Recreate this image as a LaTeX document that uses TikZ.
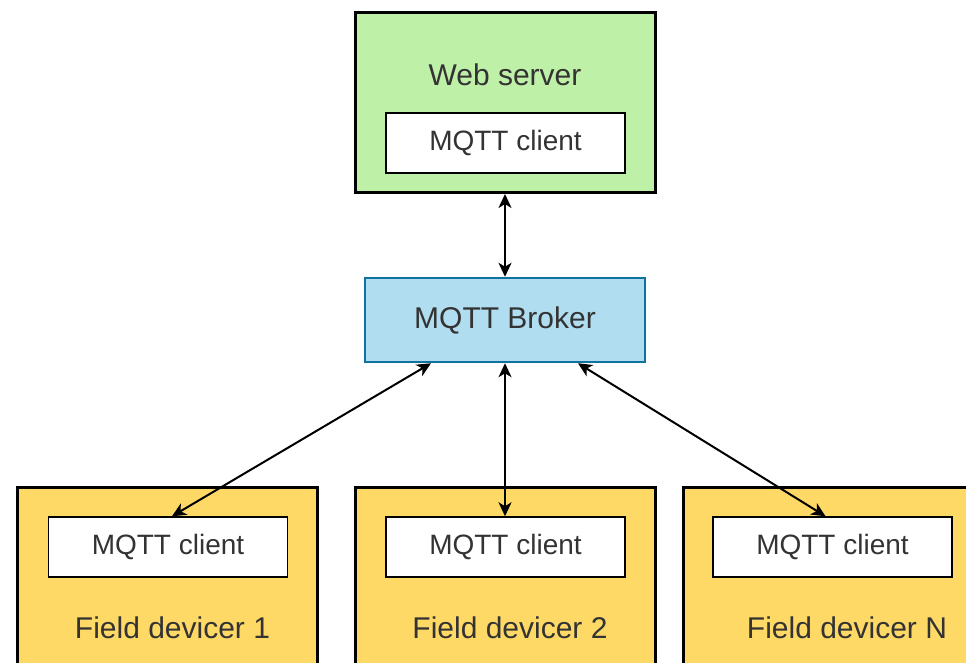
\documentclass[tikz,border=0pt]{standalone}
\usepackage{fontspec}
\setmainfont{Liberation Sans}
\usetikzlibrary{arrows.meta}
\definecolor{webgreen}{RGB}{190,240,168}
\definecolor{devyellow}{RGB}{255,217,102}
\definecolor{brokerfill}{RGB}{177,221,240}
\definecolor{brokerline}{RGB}{16,115,158}
\definecolor{txt}{RGB}{51,51,51}
\begin{document}
\begin{tikzpicture}[x=1pt,y=-1pt,
  outerbox/.style={draw=black,line width=3pt,minimum width=300pt,minimum height=180pt,inner sep=0pt},
  clientbox/.style={draw=black,line width=1.5pt,fill=white,minimum width=239pt,minimum height=60pt,inner sep=0pt,text=txt,font=\fontsize{28}{32}\selectfont},
  lbl/.style={text=txt,font=\fontsize{30}{34}\selectfont,inner sep=0pt},
  tip/.style={Stealth[length=14pt,width=13pt,inset=4pt]},
  link/.style={line width=2pt,{Stealth[length=14pt,width=13pt,inset=4pt]}-{Stealth[length=14pt,width=13pt,inset=4pt]}}]
\useasboundingbox (0,0) rectangle (966,662);
\clip (0,0) rectangle (966,662);
% web server
\node[outerbox,fill=webgreen] (web) at (505,102.5) {};
\node[lbl] (weblbl) at (505,75) {Web server};
\node[clientbox] (wc) at (505.5,143) {\raisebox{-2pt}{MQTT client}};
% broker
\node[draw=brokerline,line width=2.5pt,fill=brokerfill,minimum width=280pt,minimum height=84pt,inner sep=0pt,text=txt,font=\fontsize{30}{34}\selectfont] (broker) at (505,320) {\raisebox{-1pt}{MQTT Broker}};
% field devices
\node[outerbox,fill=devyellow] (f1) at (167.5,577) {};
\node[outerbox,fill=devyellow] (f2) at (505,577) {};
\node[outerbox,fill=devyellow] (fn) at (833,577) {};
\node[clientbox] (c1) at (168,547) {\raisebox{-2pt}{MQTT client}};
\node[clientbox] (c2) at (505.5,547) {\raisebox{-2pt}{MQTT client}};
\node[clientbox] (cn) at (832.5,547) {\raisebox{-2pt}{MQTT client}};
\node[lbl] (l1) at (172.5,628) {Field devicer 1};
\node[lbl] (l2) at (510,628) {Field devicer 2};
\node[lbl] (ln) at (847,628) {Field devicer N};
% connectors
\draw[link] (web.south) -- (broker.north);
\draw[link] ([xshift=-74pt]broker.south) -- ([xshift=4pt]c1.north);
\draw[link] (broker.south) -- ([xshift=-0.5pt]c2.north);
\draw[link] ([xshift=73pt]broker.south) -- ([xshift=-7pt]cn.north);
\end{tikzpicture}
\end{document}
